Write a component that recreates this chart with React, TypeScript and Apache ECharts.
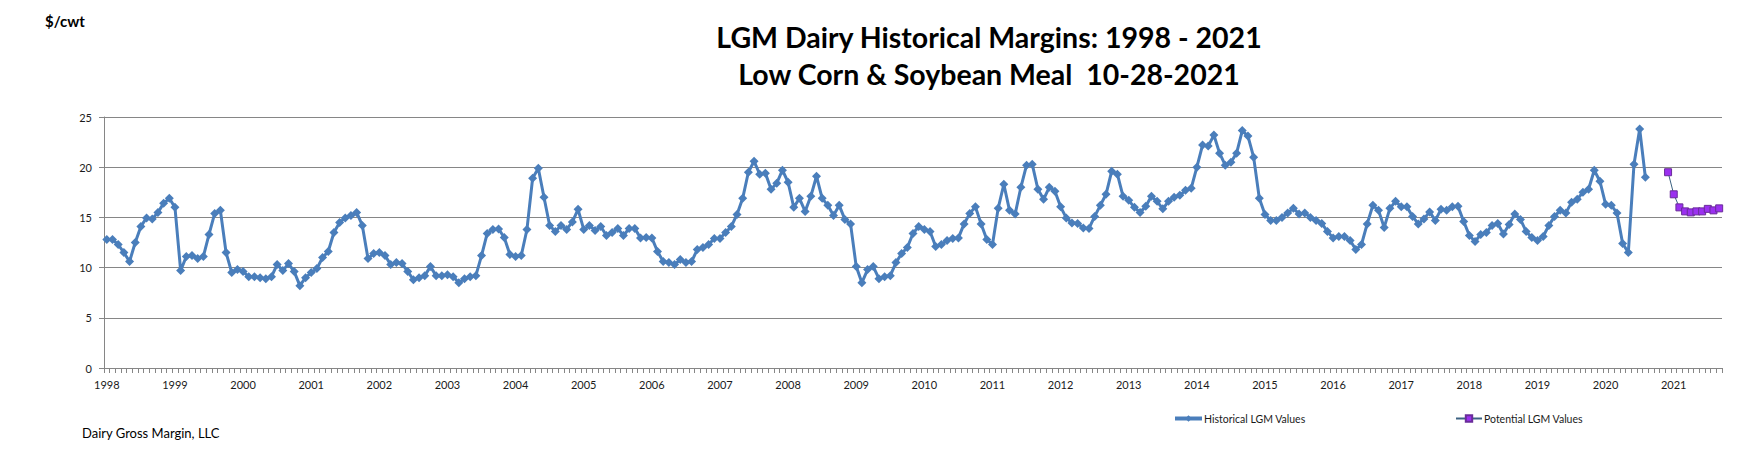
import React, { useEffect, useRef } from "react";
import * as echarts from "echarts";

// ---- data ----
const years = [1998, 1999, 2000, 2001, 2002, 2003, 2004, 2005, 2006, 2007, 2008, 2009, 2010, 2011, 2012, 2013, 2014, 2015, 2016, 2017, 2018, 2019, 2020, 2021];
const monthCodes = ["01", "02", "03", "04", "05", "06", "07", "08", "09", "10", "11", "12"];
const lastCategory = "2021-09";

const hist1998 = [12.8, 12.8, 12.3, 11.5, 10.6, 12.5, 14.1, 14.95, 14.85, 15.5, 16.4, 16.9];
const hist1999 = [16.0, 9.7, 11.1, 11.2, 10.9, 11.1, 13.3, 15.4, 15.7, 11.5, 9.5, 9.8];
const hist2000 = [9.6, 9.1, 9.1, 9.0, 8.9, 9.1, 10.3, 9.7, 10.4, 9.6, 8.2, 9.0];
const hist2001 = [9.5, 9.9, 11.0, 11.6, 13.5, 14.5, 14.95, 15.2, 15.5, 14.2, 10.9, 11.4];
const hist2002 = [11.5, 11.2, 10.3, 10.5, 10.4, 9.6, 8.8, 9.0, 9.2, 10.1, 9.2, 9.2];
const hist2003 = [9.3, 9.1, 8.5, 8.9, 9.1, 9.2, 11.2, 13.4, 13.8, 13.85, 13.0, 11.3];
const hist2004 = [11.1, 11.2, 13.8, 18.9, 19.9, 17.0, 14.2, 13.6, 14.2, 13.8, 14.55, 15.8];
const hist2005 = [13.8, 14.2, 13.7, 14.1, 13.2, 13.5, 13.9, 13.2, 13.9, 13.9, 12.96, 13.0];
const hist2006 = [12.96, 11.6, 10.6, 10.5, 10.3, 10.8, 10.5, 10.6, 11.8, 12.0, 12.3, 12.9];
const hist2007 = [12.9, 13.5, 14.1, 15.3, 16.9, 19.5, 20.6, 19.3, 19.4, 17.8, 18.4, 19.7];
const hist2008 = [18.5, 16.0, 16.9, 15.6, 17.1, 19.1, 16.9, 16.2, 15.2, 16.2, 14.8, 14.35];
const hist2009 = [10.1, 8.5, 9.8, 10.1, 8.9, 9.1, 9.2, 10.5, 11.4, 12.0, 13.4, 14.1];
const hist2010 = [13.8, 13.6, 12.1, 12.3, 12.7, 12.9, 12.96, 14.35, 15.4, 16.05, 14.35, 12.8];
const hist2011 = [12.3, 15.9, 18.3, 15.7, 15.35, 18.0, 20.2, 20.3, 17.8, 16.8, 18.0, 17.6];
const hist2012 = [16.05, 14.95, 14.45, 14.4, 13.95, 13.9, 15.1, 16.2, 17.3, 19.6, 19.3, 17.1];
const hist2013 = [16.7, 16.0, 15.5, 16.1, 17.1, 16.6, 15.85, 16.6, 17.0, 17.2, 17.7, 17.9];
const hist2014 = [20.0, 22.2, 22.1, 23.2, 21.4, 20.2, 20.5, 21.4, 23.65, 23.1, 21.0, 16.9];
const hist2015 = [15.3, 14.7, 14.7, 15.0, 15.45, 15.9, 15.35, 15.45, 15.0, 14.7, 14.4, 13.6];
const hist2016 = [12.96, 13.1, 13.1, 12.7, 11.8, 12.3, 14.35, 16.2, 15.7, 14.0, 15.9, 16.6];
const hist2017 = [16.05, 16.05, 15.1, 14.35, 14.85, 15.55, 14.7, 15.8, 15.7, 16.05, 16.1, 14.6];
const hist2018 = [13.2, 12.6, 13.3, 13.5, 14.2, 14.4, 13.35, 14.3, 15.35, 14.8, 13.6, 13.0];
const hist2019 = [12.7, 13.1, 14.2, 15.1, 15.7, 15.45, 16.5, 16.8, 17.5, 17.8, 19.7, 18.6];
const hist2020 = [16.3, 16.2, 15.45, 12.4, 11.5, 20.3, 23.8, 19.0];

const potentialMonths = ["2020-12", "2021-01", "2021-02", "2021-03", "2021-04", "2021-05", "2021-06", "2021-07", "2021-08", "2021-09"];
const potentialValues = [19.5, 17.3, 16.0, 15.6, 15.5, 15.6, 15.6, 15.85, 15.7, 15.9];

const yTicks = [0, 5, 10, 15, 20, 25];

const titleLines = ["LGM Dairy Historical Margins: 1998 - 2021", "Low Corn & Soybean Meal  10-28-2021"];
const seriesNames = ["Historical LGM Values", "Potential LGM Values"];

// ---- derived tables ----
const allMonths = years.flatMap((y) => monthCodes.map((m) => `${y}-${m}`));
const categories = allMonths.slice(0, allMonths.indexOf(lastCategory) + 1);
const historical = [
  ...hist1998, ...hist1999, ...hist2000, ...hist2001, ...hist2002, ...hist2003,
  ...hist2004, ...hist2005, ...hist2006, ...hist2007, ...hist2008, ...hist2009,
  ...hist2010, ...hist2011, ...hist2012, ...hist2013, ...hist2014, ...hist2015,
  ...hist2016, ...hist2017, ...hist2018, ...hist2019, ...hist2020,
];
const potential = categories.map((c) => {
  const k = potentialMonths.indexOf(c);
  return k >= 0 ? potentialValues[k] : null;
});

const FONT = "Lato, 'Open Sans', sans-serif";
const GRID_GRAY = "#868686";
const BLUE = "#4A7EBB";

export default function App() {
  const ref = useRef<HTMLDivElement>(null);
  useEffect(() => {
    document.body.style.margin = "0";
    if (!ref.current) return;
    const chart = echarts.init(ref.current, undefined, { renderer: "svg" });
    chart.setOption({
      animation: false,
      backgroundColor: "#ffffff",
      textStyle: { fontFamily: FONT },
      title: {
        text: titleLines.join("\n"),
        left: 989,
        textAlign: "center",
        top: 18,
        padding: 0,
        textStyle: {
          fontFamily: FONT,
          fontSize: 28.5,
          fontWeight: "bold",
          lineHeight: 37,
          color: "#000000",
        },
      },
      graphic: [
        {
          type: "text",
          x: 45,
          y: 21,
          style: {
            text: "$/cwt",
            font: `bold 15px ${FONT}`,
            fill: "#000000",
            textVerticalAlign: "middle",
          },
        },
        {
          type: "text",
          x: 82,
          y: 433,
          style: {
            text: "Dairy Gross Margin, LLC",
            font: `13px ${FONT}`,
            fill: "#000000",
            textVerticalAlign: "middle",
          },
        },
      ],
      legend: [
        {
          data: [seriesNames[0]],
          left: 1173,
          top: 413,
          padding: 0,
          itemWidth: 27,
          itemHeight: 8,
          lineStyle: { width: 4 },
          textStyle: { fontFamily: FONT, fontSize: 10.5, color: "#1a1a1a", padding: [0, 0, 0, -3] },
        },
        {
          data: [seriesNames[1]],
          left: 1455,
          top: 413,
          padding: 0,
          itemWidth: 26,
          itemHeight: 8,
          textStyle: { fontFamily: FONT, fontSize: 10.5, color: "#1a1a1a", padding: [0, 0, 0, -3] },
        },
      ],
      grid: { left: 104, right: 18, top: 117, bottom: 108, containLabel: false },
      xAxis: {
        type: "category",
        data: categories,
        boundaryGap: true,
        axisLine: { show: true, lineStyle: { color: GRID_GRAY, width: 1 } },
        axisTick: { show: true, interval: 0, length: 5, lineStyle: { color: GRID_GRAY, width: 1 } },
        axisLabel: {
          interval: 11,
          margin: 11,
          fontFamily: FONT,
          fontSize: 11,
          color: "#1a1a1a",
          formatter: (v: string) => v.slice(0, 4),
        },
        splitLine: { show: false },
      },
      yAxis: {
        type: "value",
        min: yTicks[0],
        max: yTicks[yTicks.length - 1],
        interval: yTicks[1] - yTicks[0],
        axisLine: { show: true, lineStyle: { color: GRID_GRAY, width: 1 } },
        axisTick: { show: true, length: 5, lineStyle: { color: GRID_GRAY, width: 1 } },
        axisLabel: { margin: 12, fontFamily: FONT, fontSize: 11, color: "#1a1a1a" },
        splitLine: { show: true, lineStyle: { color: GRID_GRAY, width: 1 } },
      },
      series: [
        {
          name: seriesNames[0],
          type: "line",
          data: historical,
          symbol: "diamond",
          symbolSize: 9,
          showAllSymbol: true,
          lineStyle: { color: BLUE, width: 3 },
          itemStyle: { color: BLUE, borderColor: BLUE, borderWidth: 0 },
          emphasis: { disabled: true },
          z: 3,
        },
        {
          name: seriesNames[1],
          type: "line",
          data: potential,
          symbol: "rect",
          symbolSize: 7,
          showAllSymbol: true,
          connectNulls: false,
          lineStyle: { color: "#3C6282", width: 1 },
          itemStyle: { color: "#9B30F0", borderColor: "#6A2C9A", borderWidth: 1 },
          emphasis: { disabled: true },
          z: 4,
        },
      ],
    });
    return () => chart.dispose();
  }, []);
  return <div ref={ref} style={{ width: 1740, height: 476 }} />;
}
